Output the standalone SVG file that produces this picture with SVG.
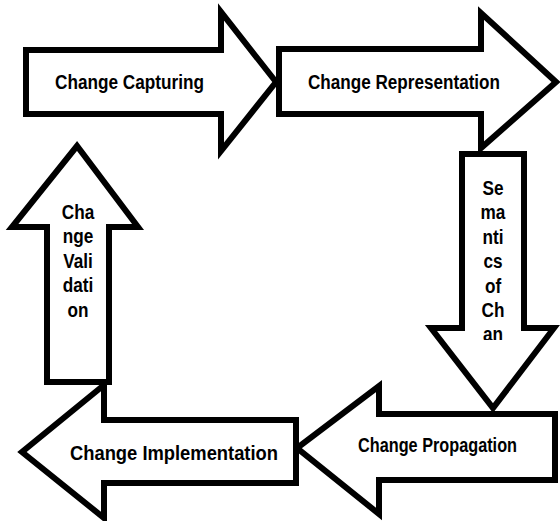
<svg xmlns="http://www.w3.org/2000/svg" width="560" height="521" viewBox="0 0 560 521">
<style>
.arrow{fill:#fff;stroke:#000;stroke-width:6;stroke-linejoin:miter;stroke-miterlimit:10}
.lbl{font-family:"Liberation Sans",Arial,sans-serif;font-weight:bold;font-size:20px;fill:#000;text-anchor:middle}
</style>
<defs>
<clipPath id="clipSem"><rect x="-40" y="160" width="80" height="180"/></clipPath>
</defs>
<rect width="560" height="521" fill="#fff"/>
<g id="connectors"></g>
<g id="change-capturing">
<path class="arrow" d="M26,50 H221 V12 L276,82 L221,151 V114 H26 Z"/>
<text class="lbl" x="129.5" y="89" textLength="149" lengthAdjust="spacingAndGlyphs">Change Capturing</text>
</g>
<g id="change-representation">
<path class="arrow" d="M279,49 H481 V13 L556,82 L481,148 V114 H279 Z"/>
<text class="lbl" x="404" y="89" textLength="192" lengthAdjust="spacingAndGlyphs">Change Representation</text>
</g>
<g id="semantics-of-change">
<path class="arrow" d="M462,154 H524 V328 H554 L493,408 L431,328 H462 Z"/>
<g transform="translate(493,0) scale(0.86,1)" clip-path="url(#clipSem)">
<text class="lbl" x="0" y="195">Se</text>
<text class="lbl" x="0" y="219.4">ma</text>
<text class="lbl" x="0" y="243.8">nti</text>
<text class="lbl" x="0" y="268.2">cs</text>
<text class="lbl" x="0" y="292.6">of</text>
<text class="lbl" x="0" y="317">Ch</text>
<text class="lbl" x="0" y="341.4">an</text>
</g>
</g>
<g id="change-propagation">
<path class="arrow" d="M555,414 V480 H379 V514 L297,448 L379,386 V414 Z"/>
<text class="lbl" x="437.5" y="452" textLength="159" lengthAdjust="spacingAndGlyphs">Change Propagation</text>
</g>
<g id="change-implementation">
<path class="arrow" d="M296,420 V483 H104 V518 L22,452 L104,385 V420 Z"/>
<text class="lbl" x="174" y="460" textLength="208" lengthAdjust="spacingAndGlyphs">Change Implementation</text>
</g>
<g id="change-validation">
<path class="arrow" d="M47,382 V227 H12 L77,146 L138,227 H109 V382 Z"/>
<g transform="translate(78,0) scale(0.86,1)">
<text class="lbl" x="0" y="219">Cha</text>
<text class="lbl" x="0" y="243.4">nge</text>
<text class="lbl" x="0" y="267.8">Vali</text>
<text class="lbl" x="0" y="292.2">dati</text>
<text class="lbl" x="0" y="316.6">on</text>
</g>
</g>
</svg>
